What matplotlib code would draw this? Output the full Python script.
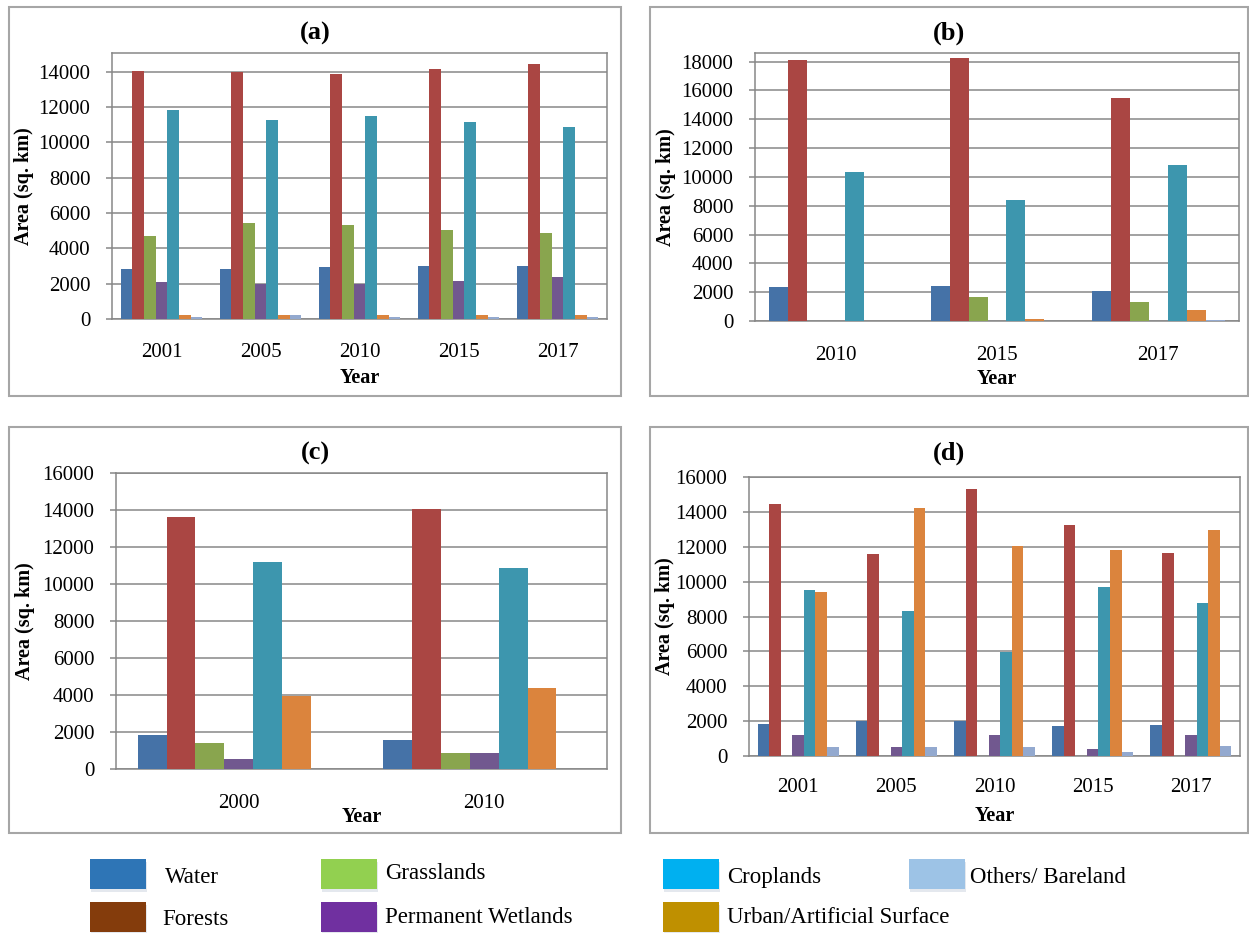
import matplotlib
matplotlib.use('Agg')
import matplotlib.pyplot as plt
import numpy as np
from matplotlib.patches import Rectangle

plt.rcParams['font.family'] = ['Liberation Serif', 'DejaVu Serif']

# land cover classes, in bar order
classes = ['Water', 'Forests', 'Grasslands', 'Permanent Wetlands',
           'Croplands', 'Urban/Artificial Surface', 'Others/ Bareland']
bar_colors = ['#4572A7', '#AA4643', '#89A54E', '#71588F',
              '#3D96AE', '#DB843D', '#93A9CF']

# (a)
a_years = ['2001', '2005', '2010', '2015', '2017']
a_water = [2830, 2830, 2920, 3010, 3010]
a_forests = [14040, 13980, 13870, 14150, 14400]
a_grass = [4710, 5430, 5330, 5050, 4860]
a_wetlands = [2070, 1980, 1980, 2170, 2370]
a_crop = [11800, 11270, 11460, 11160, 10890]
a_urban = [200, 200, 200, 200, 200]
a_others = [110, 200, 110, 110, 110]

# (b)
b_years = ['2010', '2015', '2017']
b_water = [2340, 2450, 2110]
b_forests = [18120, 18240, 15460]
b_grass = [0, 1690, 1340]
b_wetlands = [0, 0, 0]
b_crop = [10370, 8400, 10830]
b_urban = [0, 150, 760]
b_others = [0, 0, 100]

# (c)
c_years = ['2000', '2010']
c_water = [1820, 1550]
c_forests = [13620, 14050]
c_grass = [1410, 885]
c_wetlands = [540, 885]
c_crop = [11210, 10870]
c_urban = [3950, 4400]
c_others = [0, 0]

# (d)
d_years = ['2001', '2005', '2010', '2015', '2017']
d_water = [1850, 1980, 1980, 1700, 1770]
d_forests = [14470, 11570, 15310, 13230, 11670]
d_grass = [0, 0, 0, 0, 0]
d_wetlands = [1220, 500, 1220, 400, 1220]
d_crop = [9500, 8290, 5990, 9670, 8770]
d_urban = [9400, 14220, 12030, 11840, 12960]
d_others = [500, 500, 500, 230, 570]

# legend swatches
legend_labels = ['Water', 'Forests', 'Grasslands', 'Permanent Wetlands',
                 'Croplands', 'Urban/Artificial Surface', 'Others/ Bareland']
legend_colors = ['#2E75B6', '#843C0C', '#92D050', '#7030A0',
                 '#00B0F0', '#BF9000', '#9DC3E6']

W, H = 1249, 933
fig = plt.figure(figsize=(W / 100, H / 100), dpi=100)
GRID = '#878787'


def fig_box(l, t, r, b, **kw):
    rect = Rectangle((l / W, 1 - b / H), (r - l) / W, (b - t) / H,
                     transform=fig.transFigure, **kw)
    fig.patches.append(rect)


def panel(box, plot, title, years, series, ymax, tick_max, tick_pad, year_y, ylab_x):
    fig_box(*box, fill=False, edgecolor='#A6A6A6', lw=1.5)
    l, t, r, b = plot
    ax = fig.add_axes([l / W, 1 - b / H, (r - l) / W, (b - t) / H])
    x = np.arange(len(years))
    w = 1 / 8.5
    for i, vals in enumerate(series):
        ax.bar(x + (i - 3) * w, vals, w, color=bar_colors[i],
               linewidth=0, zorder=3)
    ax.set_xlim(-0.5, len(years) - 0.5)
    ax.set_ylim(0, ymax)
    ax.set_yticks(np.arange(0, tick_max + 1, 2000))
    ax.set_xticks(x)
    ax.set_xticklabels(years)
    ax.yaxis.grid(True, color=GRID, lw=1.1)
    ax.set_axisbelow(True)
    for s in ax.spines.values():
        s.set_color(GRID)
        s.set_linewidth(1.1)
    ax.tick_params(axis='y', direction='out', length=4.5, width=1.1,
                   color=GRID, pad=11, labelsize=15)
    ax.tick_params(axis='x', length=0, pad=tick_pad, labelsize=15)
    bl, bt, br, bb = box
    fig.text((bl + br) / 2 / W, 1 - (bt + 26) / H, title, fontsize=19,
             fontweight='bold', ha='center', va='center')
    fig.text((l + r) / 2 / W, 1 - year_y / H, 'Year', fontsize=14.5,
             fontweight='bold', ha='center', va='center')
    fig.text(ylab_x / W, 1 - (t + b) / 2 / H, 'Area (sq. km)', fontsize=14.5,
             fontweight='bold', rotation=90, ha='center', va='center')
    return ax


panel((9, 7, 621, 396), (112, 53, 607, 319), '(a)', a_years,
      [a_water, a_forests, a_grass, a_wetlands, a_crop, a_urban, a_others],
      15050, 14000, 17, 378, 24)
panel((650, 7, 1248, 396), (755, 53, 1239, 321), '(b)', b_years,
      [b_water, b_forests, b_grass, b_wetlands, b_crop, b_urban, b_others],
      18600, 18000, 18, 379, 666)
panel((9, 427, 621, 833), (116, 473, 607, 769), '(c)', c_years,
      [c_water, c_forests, c_grass, c_wetlands, c_crop, c_urban, c_others],
      16000, 16000, 18, 817, 25)
panel((650, 427, 1248, 833), (749, 477, 1240, 756), '(d)', d_years,
      [d_water, d_forests, d_grass, d_wetlands, d_crop, d_urban, d_others],
      16000, 16000, 16, 816, 665)

# legend below the panels
patch_x = [90, 90, 321, 321, 663, 663, 909]
patch_y = [859, 902, 859, 902, 859, 902, 859]
text_x = [165, 162, 385, 385, 727, 727, 970]
text_base = [883, 925, 879, 923, 883, 923, 883]
for i, lab in enumerate(legend_labels):
    px, py = patch_x[i], patch_y[i]
    fig_box(px + 1, py + 3, px + 57, py + 33, facecolor='#E4E8EE',
            edgecolor='none')
    fig_box(px, py, px + 56, py + 30, facecolor=legend_colors[i],
            edgecolor='none')
    fig.text(text_x[i] / W, 1 - text_base[i] / H, lab, fontsize=16.5,
             ha='left', va='baseline')

fig.savefig('out.png', dpi=100, facecolor='white')
